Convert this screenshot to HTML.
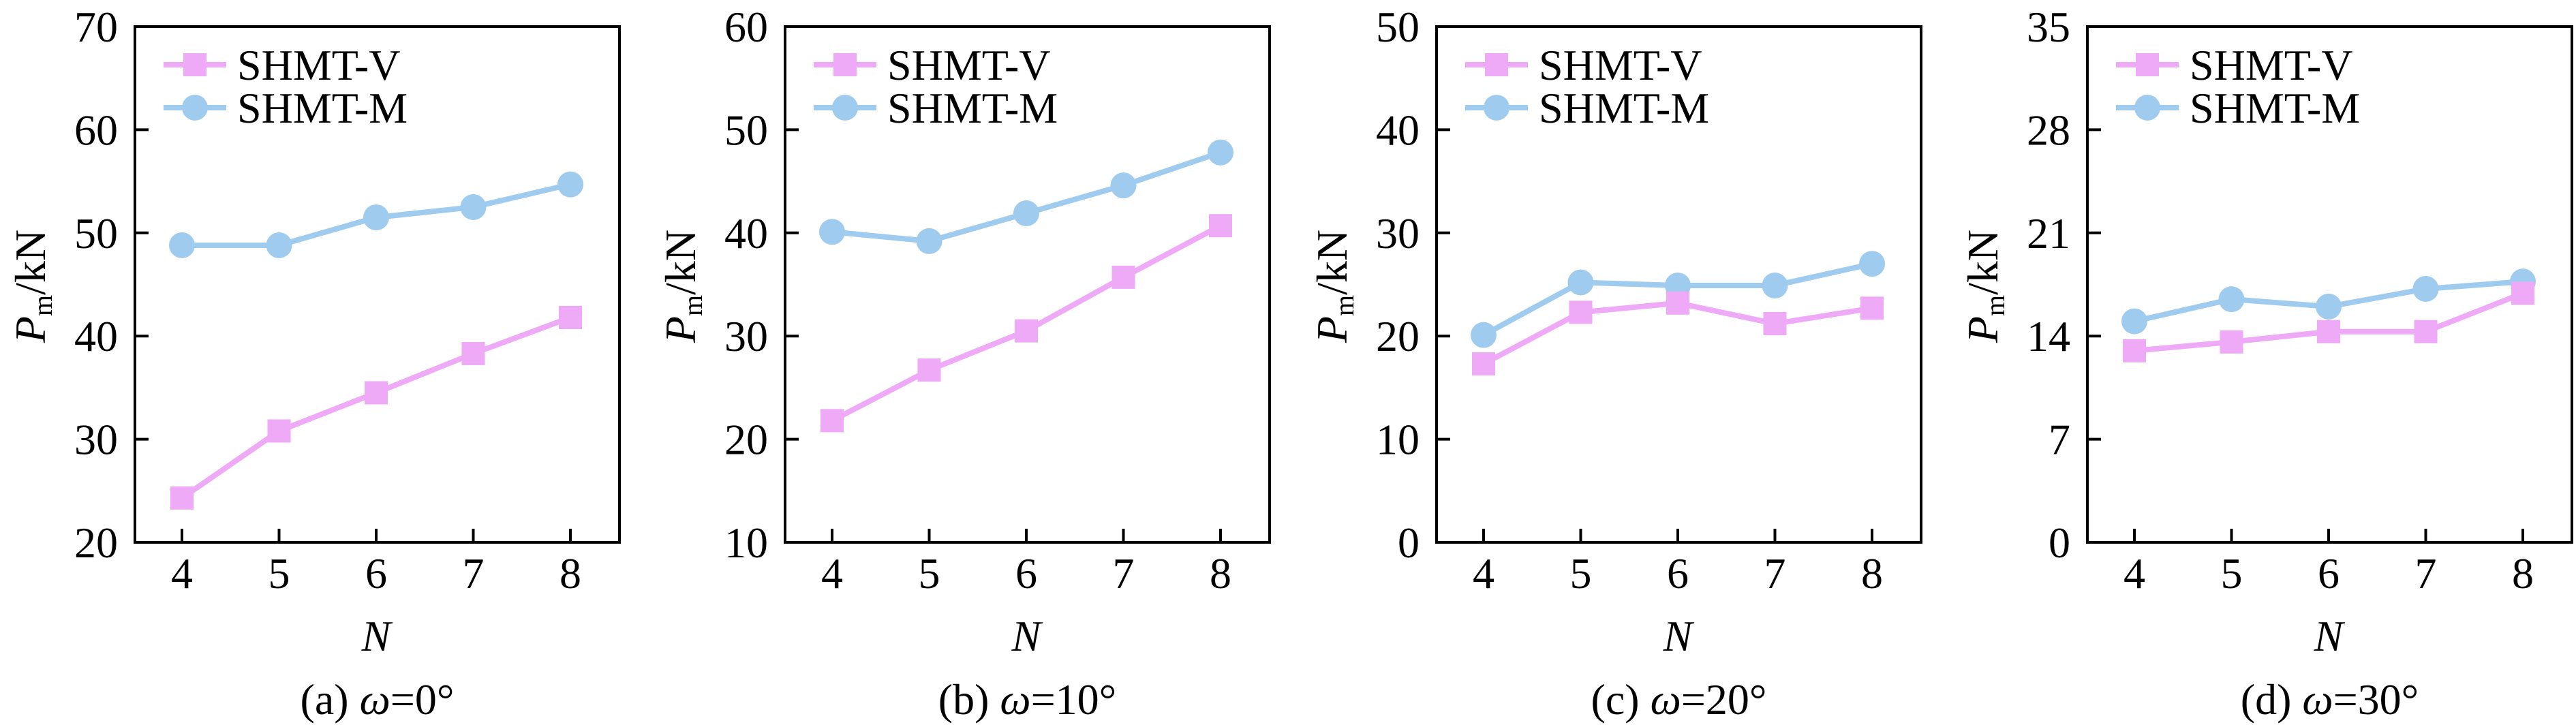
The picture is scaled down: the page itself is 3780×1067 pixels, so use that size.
<!DOCTYPE html>
<html><head><meta charset="utf-8"><style>
html,body{margin:0;padding:0;background:#fff;}
svg{display:block;}
svg text{font-family:"Liberation Serif","Times New Roman",serif;}
</style></head><body>
<svg id="fig" width="3780" height="1067" viewBox="0 0 3780 1067" xmlns="http://www.w3.org/2000/svg" font-family="Liberation Serif, serif"></svg>
<script>
const categories = [4, 5, 6, 7, 8];
const panelLabels = ["(a) ", "(b) ", "(c) ", "(d) "];
const panelAngles = ["0°", "10°", "20°", "30°"];
const yMins = [20, 10, 0, 0];
const yMaxs = [70, 60, 50, 35];
const yTickLabelsA = [20, 30, 40, 50, 60, 70];
const yTickLabelsB = [10, 20, 30, 40, 50, 60];
const yTickLabelsC = [0, 10, 20, 30, 40, 50];
const yTickLabelsD = [0, 7, 14, 21, 28, 35];
const seriesVA = [24.3, 30.8, 34.5, 38.3, 41.8];
const seriesMA = [48.8, 48.8, 51.5, 52.5, 54.7];
const seriesVB = [21.8, 26.7, 30.5, 35.7, 40.7];
const seriesMB = [40.1, 39.2, 41.9, 44.6, 47.8];
const seriesVC = [17.3, 22.3, 23.2, 21.2, 22.7];
const seriesMC = [20.1, 25.2, 24.9, 24.9, 27.0];
const seriesVD = [13.0, 13.6, 14.3, 14.3, 16.9];
const seriesMD = [15.0, 16.5, 16.0, 17.2, 17.7];
const legendNames = ["SHMT-V", "SHMT-M"];

const NS = "http://www.w3.org/2000/svg";
const svg = document.getElementById("fig");
const PINK = "#eeaaf6", BLUE = "#9fcbee";
const FONT = '"Liberation Serif", serif';
function mk(tag, attrs, parent) {
  const e = document.createElementNS(NS, tag);
  for (const k in attrs) e.setAttribute(k, attrs[k]);
  if (tag === "text") e.setAttribute("font-family", FONT);
  (parent || svg).appendChild(e);
  return e;
}
const panels = [
  {ticks: yTickLabelsA, v: seriesVA, m: seriesMA},
  {ticks: yTickLabelsB, v: seriesVB, m: seriesMB},
  {ticks: yTickLabelsC, v: seriesVC, m: seriesMC},
  {ticks: yTickLabelsD, v: seriesVD, m: seriesMD}
];
const lefts = [198, 1152, 2108, 3063];
const W = 711, TOP = 39, BOT = 796;

panels.forEach((p, i) => {
  const L = lefts[i], R = L + W;
  const g = mk("g", {});
  
  
  const xs = c => L + 69 + (c - categories[0]) * 142.5;
  const ys = v => BOT - (v - yMins[i]) / (yMaxs[i] - yMins[i]) * (BOT - TOP);

  const drawSeries = (vals, color, kind, name) => {
    const pts = vals.map((v, j) => xs(categories[j]) + "," + ys(v)).join(" ");
    const pl = mk("polyline", {points: pts, fill: "none", stroke: color, "stroke-width": 8, "stroke-linejoin": "round"}, g);
    
    
    vals.forEach((v, j) => {
      let mkr;
      if (kind === "sq") mkr = mk("rect", {x: xs(categories[j]) - 17, y: ys(v) - 17, width: 34, height: 34, fill: color}, g);
      else mkr = mk("circle", {cx: xs(categories[j]), cy: ys(v), r: 19, fill: color}, g);
      
      
    });
  };
  drawSeries(p.m, BLUE, "ci", "shmt-m");
  drawSeries(p.v, PINK, "sq", "shmt-v");

  const fr = mk("rect", {x: L, y: TOP, width: W, height: BOT - TOP, fill: "none", stroke: "#000", "stroke-width": 4}, g);
  
  

  p.ticks.forEach(t => {
    const y = ys(t);
    const tk = mk("line", {x1: L, x2: L + 20, y1: y, y2: y, stroke: "#000", "stroke-width": 4}, g);
    
    
    const tx = mk("text", {x: L - 25, y: y + 22, "text-anchor": "end", "font-size": 64}, g);
    tx.textContent = t;
    
    
  });
  categories.forEach(c => {
    const x = xs(c);
    const tk = mk("line", {x1: x, x2: x, y1: BOT, y2: BOT - 20, stroke: "#000", "stroke-width": 4}, g);
    
    
    const tx = mk("text", {x: x, y: 863, "text-anchor": "middle", "font-size": 64}, g);
    tx.textContent = c;
    
    
  });
  const xt = mk("text", {x: xs(6), y: 955, "text-anchor": "middle", "font-size": 64, "font-style": "italic"}, g);
  xt.textContent = "N";
  
  
  const yt = mk("text", {x: 0, y: 0, "text-anchor": "middle", "font-size": 64, transform: "translate(" + (L - 132) + ",420) rotate(-90)"}, g);
  yt.innerHTML = '<tspan font-style="italic">P</tspan><tspan font-size="40" dy="10">m</tspan><tspan dy="-10">/kN</tspan>';
  
  
  const cap = mk("text", {x: L + W / 2, y: 1048, "text-anchor": "middle", "font-size": 64}, g);
  cap.innerHTML = panelLabels[i] + '<tspan font-style="italic">ω</tspan>=' + panelAngles[i];
  
  
  const lg = mk("g", {}, g);
  
  
  [[PINK, "sq", 95], [BLUE, "ci", 158]].forEach((d, k) => {
    const ln = mk("line", {x1: L + 42, x2: L + 134, y1: d[2], y2: d[2], stroke: d[0], "stroke-width": 8}, lg);
    
    
    let mm;
    if (d[1] === "sq") mm = mk("rect", {x: L + 71, y: d[2] - 17, width: 34, height: 34, fill: d[0]}, lg);
    else mm = mk("circle", {cx: L + 88, cy: d[2], r: 19, fill: d[0]}, lg);
    
    
    const tt = mk("text", {x: L + 150, y: d[2] + 22, "font-size": 64}, lg);
    tt.textContent = legendNames[k];
    
    
  });
});
</script>
</body></html>
